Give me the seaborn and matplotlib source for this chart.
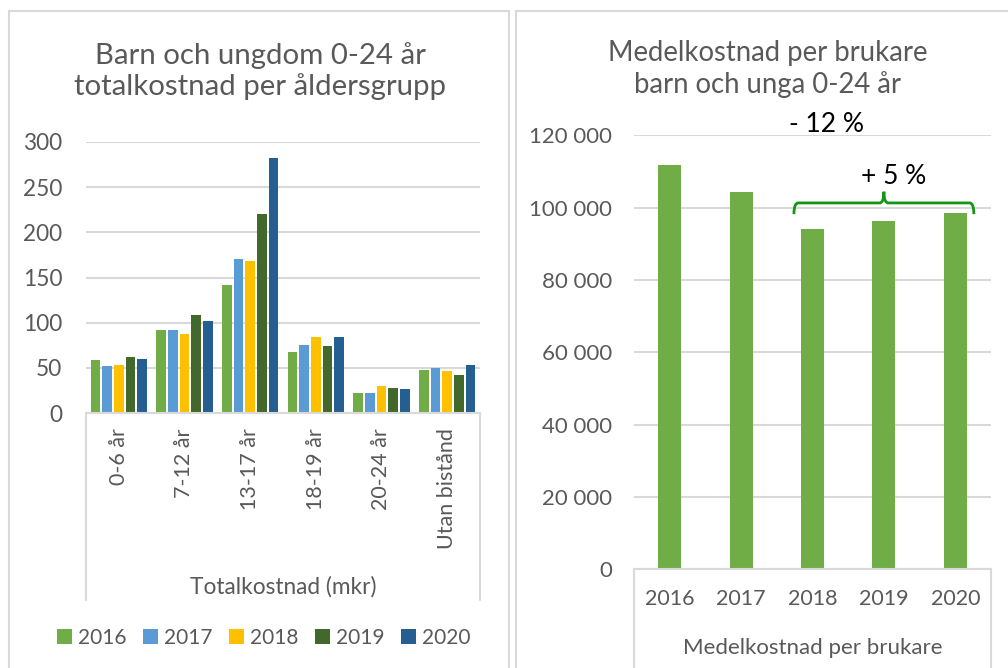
import numpy as np
import pandas as pd
import matplotlib
matplotlib.use("Agg")
import matplotlib.pyplot as plt
import seaborn as sns
from matplotlib.patches import Rectangle, PathPatch
from matplotlib.path import Path
from matplotlib.lines import Line2D
from matplotlib.ticker import FuncFormatter, MultipleLocator

# Data: totalkostnad (mkr) per åldersgrupp och år
grupper = ['0-6 år', '7-12 år', '13-17 år', '18-19 år', '20-24 år', 'Utan bistånd']
ar = ['2016', '2017', '2018', '2019', '2020']
kost_2016 = [59, 91.5, 142, 67, 22.5, 48]
kost_2017 = [52.5, 92.3, 170, 75, 22, 49.5]
kost_2018 = [53, 87.5, 168, 84.5, 29.5, 46.5]
kost_2019 = [62.5, 108.5, 220.5, 74, 27.3, 42.5]
kost_2020 = [60, 101.5, 282, 84, 26.2, 53.5]
ar_farger = ['#70AD47', '#5B9BD5', '#FFC000', '#43682B', '#255E91']

# Medelkostnad per brukare
medel_ar = ['2016', '2017', '2018', '2019', '2020']
medel_kost = [111800, 104300, 94100, 96300, 98600]
medel_farg = '#70AD47'

sns.set_style('white')
plt.rcParams['font.family'] = ['Lato', 'DejaVu Sans']
GRA_TEXT = '#595959'
GRA_LINJE = '#D9D9D9'

W, H = 1008, 668
fig = plt.figure(figsize=(W / 100, H / 100), dpi=100)


def fx(px):
    return px / W


def fy(py):
    return 1 - py / H


# Ramar runt de två diagrammen
fig.patches.append(Rectangle((fx(9), fy(700)), fx(500), fy(10.5) - fy(700),
                             transform=fig.transFigure, fill=False,
                             edgecolor=GRA_LINJE, linewidth=1.5))
fig.patches.append(Rectangle((fx(516), fy(700)), fx(520), fy(10.5) - fy(700),
                             transform=fig.transFigure, fill=False,
                             edgecolor=GRA_LINJE, linewidth=1.5))

# ---- Vänster diagram ----
ax1 = fig.add_axes([fx(86), fy(413), fx(480) - fx(86), fy(142) - fy(413)])
df = pd.DataFrame({
    'grupp': grupper * 5,
    'år': [a for a in ar for _ in grupper],
    'kostnad': kost_2016 + kost_2017 + kost_2018 + kost_2019 + kost_2020,
})
sns.barplot(data=df, x='grupp', y='kostnad', hue='år', order=grupper,
            hue_order=ar, palette=ar_farger, saturation=1, width=0.89,
            gap=0.17, linewidth=0, ax=ax1, legend=False)
ax1.set_ylim(0, 300)
ax1.yaxis.set_major_locator(MultipleLocator(50))
ax1.grid(axis='y', color=GRA_LINJE, linewidth=1.5)
ax1.set_axisbelow(True)
for s in ['left', 'right', 'top']:
    ax1.spines[s].set_visible(False)
ax1.spines['bottom'].set_color(GRA_LINJE)
ax1.spines['bottom'].set_linewidth(1.5)
ax1.tick_params(length=0)
ax1.tick_params(axis='y', pad=17, labelsize=16.3, labelcolor=GRA_TEXT)
ax1.tick_params(axis='x', pad=11, labelsize=15.5, labelcolor=GRA_TEXT,
                labelrotation=90)
ax1.set_xlabel('')
ax1.set_ylabel('')
for x in [0, 1]:
    ax1.add_line(Line2D([x, x], [0, -0.69], transform=ax1.transAxes,
                        color=GRA_LINJE, linewidth=1.5, clip_on=False))

fig.text(fx(260), fy(71), 'Barn och ungdom 0-24 år\ntotalkostnad per åldersgrupp',
         ha='center', va='center', fontsize=21.2, color=GRA_TEXT, linespacing=1.22)
fig.text(fx(283), fy(587), 'Totalkostnad (mkr)', ha='center', va='center',
         fontsize=16.3, color=GRA_TEXT)

handles = [Rectangle((0, 0), 1, 1, facecolor=c, edgecolor='none') for c in ar_farger]
fig.legend(handles, ar, loc='center', bbox_to_anchor=(fx(264), fy(638)),
           ncol=5, frameon=False, fontsize=15, labelcolor=GRA_TEXT,
           handlelength=0.7, handleheight=0.7, handletextpad=0.3,
           columnspacing=0.8)

# ---- Höger diagram ----
ax2 = fig.add_axes([fx(634), fy(569.3), fx(991) - fx(634), fy(135.3) - fy(569.3)])
sns.barplot(x=medel_ar, y=medel_kost, color=medel_farg, saturation=1,
            width=0.32, linewidth=0, ax=ax2)
ax2.set_ylim(0, 120000)
ax2.yaxis.set_major_locator(MultipleLocator(20000))
ax2.yaxis.set_major_formatter(FuncFormatter(lambda v, p: f'{int(v):,}'.replace(',', ' ')))
ax2.grid(axis='y', color=GRA_LINJE, linewidth=1.5)
ax2.set_axisbelow(True)
for s in ['left', 'right', 'top']:
    ax2.spines[s].set_visible(False)
ax2.spines['bottom'].set_color(GRA_LINJE)
ax2.spines['bottom'].set_linewidth(1.5)
ax2.tick_params(length=0)
ax2.tick_params(axis='y', pad=16, labelsize=16, labelcolor=GRA_TEXT)
ax2.tick_params(axis='x', pad=14, labelsize=15.5, labelcolor=GRA_TEXT)
for x in [0, 1]:
    ax2.add_line(Line2D([x, x], [0, -0.23], transform=ax2.transAxes,
                        color=GRA_LINJE, linewidth=1.5, clip_on=False))

fig.text(fx(768), fy(69), 'Medelkostnad per brukare\nbarn och unga 0-24 år',
         ha='center', va='center', fontsize=19.8, color=GRA_TEXT, linespacing=1.2)
fig.text(fx(812.5), fy(648), 'Medelkostnad per brukare', ha='center', va='center',
         fontsize=16, color=GRA_TEXT)

# Förändring 2016-2020 och 2018-2020
andring_tot = round((medel_kost[-1] / medel_kost[0] - 1) * 100)
andring_3 = round((medel_kost[-1] / medel_kost[2] - 1) * 100)
ax2.text(2.2, 123000, f'- {abs(andring_tot)} %', ha='center', va='center',
         fontsize=19, color='black')

# klammer över 2018-2020
x0, x1 = 2 - 0.26, 4 + 0.26
xc = (x0 + x1) / 2
yl = max(medel_kost[2:]) + 2700
d = 3100
r = 0.06
verts = [(x0, yl - d), (x0, yl), (x0 + r, yl), (xc - r, yl), (xc, yl), (xc, yl + d),
         (xc, yl + d), (xc, yl), (xc + r, yl), (x1 - r, yl), (x1, yl), (x1, yl - d)]
codes = [Path.MOVETO, Path.CURVE3, Path.CURVE3, Path.LINETO, Path.CURVE3, Path.CURVE3,
         Path.MOVETO, Path.CURVE3, Path.CURVE3, Path.LINETO, Path.CURVE3, Path.CURVE3]
ax2.add_patch(PathPatch(Path(verts, codes), fill=False, edgecolor='#159515',
                        linewidth=2, clip_on=False))
ax2.text(xc + 0.13, yl + d + 4200, f'+ {andring_3} %', ha='center', va='center',
         fontsize=19, color='black')

fig.savefig('out.png', dpi=100)
